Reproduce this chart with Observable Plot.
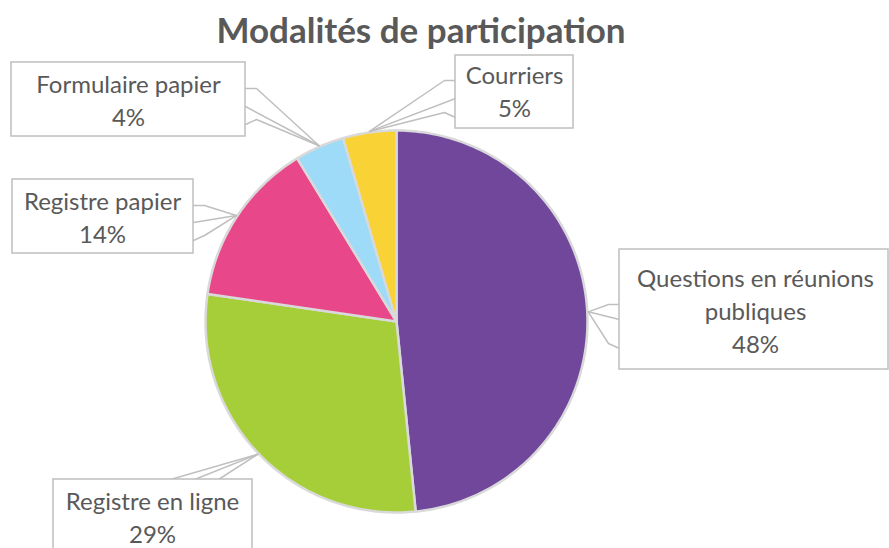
<!DOCTYPE html>
<html>
<head>
<meta charset="utf-8">
<script src="https://cdn.jsdelivr.net/npm/d3@7"></script>
<script src="https://cdn.jsdelivr.net/npm/@observablehq/plot@0.6"></script>
<style>
  html, body { margin: 0; padding: 0; background: #fff; }
  #title { height: 48px; line-height: 58px; text-align: center; font-family: Lato, sans-serif; font-weight: bold; font-size: 35px; color: #595959; width: 842px; overflow: visible; white-space: nowrap; }
</style>
</head>
<body>
<div id="title">Modalités de participation</div>
<div id="chart"></div>
<script>
// ---- data ----
const categories = ["Questions en réunions publiques", "Registre en ligne", "Registre papier", "Formulaire papier", "Courriers"];
const labelLines = [["Questions en réunions", "publiques"], ["Registre en ligne"], ["Registre papier"], ["Formulaire papier"], ["Courriers"]];
const values = [48.4, 28.9, 14.0, 4.2, 4.5];
const colors = ["#71479C", "#A6CE39", "#E8488A", "#9DDBF8", "#F9D236"];

// ---- layout (SVG pixel coordinates) ----
const T = 48;                // title height
const W = 889, H = 500;
const cx = 396, cy = 321 - T, R = 191;
const LH = 33;               // label line height
const boxes = [
  {x1: 619, y1: 249 - T, x2: 888, y2: 369 - T, side: "left", b: [304, 319, 348]},
  {x1: 53, y1: 479 - T, x2: 252, y2: 557 - T, side: "top", b: [170, 194, 218]},
  {x1: 12, y1: 179 - T, x2: 193, y2: 253 - T, side: "right", b: [205, 222, 240]},
  {x1: 11, y1: 62 - T, x2: 245, y2: 136 - T, side: "right", b: [88, 106, 124]},
  {x1: 455, y1: 55 - T, x2: 573, y2: 128 - T, side: "left", b: [80, 98, 117]}
];
const textCenters = [[755, 312], [152, 518], [102, 218], [128, 101], [514, 92]];

const total = d3.sum(values);
const arcs = d3.pie().sort(null).value(d => d)(values);
const pt = (a, r) => ({x: cx + r * Math.sin(a), y: cy - r * Math.cos(a)});

const sliceMarks = arcs.map((a, i) => {
  const pts = [{x: cx, y: cy}];
  const n = Math.max(2, Math.ceil((a.endAngle - a.startAngle) / (Math.PI / 180)));
  for (let k = 0; k <= n; k++) pts.push(pt(a.startAngle + (a.endAngle - a.startAngle) * k / n, R));
  pts.push({x: cx, y: cy});
  return Plot.line(pts, {x: "x", y: "y", fill: colors[i], stroke: "#D9D9D9", strokeWidth: 2.5, strokeLinejoin: "round"});
});

const calloutMarks = [];
arcs.forEach((a, i) => {
  const bx = boxes[i];
  const tip = pt((a.startAngle + a.endAngle) / 2, R + 1);
  let e;
  if (bx.side === "left") e = bx.b.map(y => ({x: bx.x1, y: y - T}));
  else if (bx.side === "right") e = bx.b.map(y => ({x: bx.x2, y: y - T}));
  else e = bx.b.map(x => ({x, y: bx.y1}));
  const off = bx.side === "left" ? -11 : bx.side === "right" ? 11 : 0;
  const j1 = {x: e[0].x + off, y: e[0].y};
  const j3 = {x: e[2].x + off, y: e[2].y - (bx.side === "top" ? 0 : 5)};
  calloutMarks.push(Plot.line([e[0], j1, tip, j3, e[2]], {x: "x", y: "y", fill: "white", stroke: "#BFBFBF", strokeWidth: 1.5}));
  calloutMarks.push(Plot.line([e[1], tip], {x: "x", y: "y", stroke: "#BFBFBF", strokeWidth: 1.5}));
});

const table = categories.map((c, i) => ({
  name: c, value: values[i],
  x1: boxes[i].x1, x2: boxes[i].x2, y1: boxes[i].y1, y2: boxes[i].y2
}));

// one text row per label line
const textRows = [];
table.forEach((d, i) => {
  const lines = [...labelLines[i], Math.round(d.value / total * 100) + "%"];
  lines.forEach((s, k) => {
    textRows.push({text: s, x: textCenters[i][0], y: textCenters[i][1] - T + (k - (lines.length - 1) / 2) * LH});
  });
});

const chart = Plot.plot({
  width: W, height: H,
  margin: 0,
  x: {type: "identity", axis: null},
  y: {type: "identity", axis: null},
  style: {fontFamily: "Lato, sans-serif", background: "white"},
  marks: [
    ...sliceMarks,
    ...calloutMarks,
    Plot.rect(table, {x1: "x1", x2: "x2", y1: "y1", y2: "y2", fill: "white", stroke: "#BFBFBF", strokeWidth: 1.5}),
    Plot.text(textRows, {x: "x", y: "y", text: "text", fontSize: 24, fill: "#595959", textAnchor: "middle", lineAnchor: "middle"})
  ]
});
document.getElementById("chart").appendChild(chart);
</script>
</body>
</html>
